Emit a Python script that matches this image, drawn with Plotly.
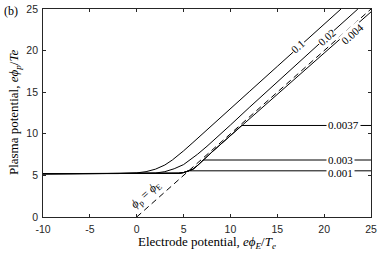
import plotly.graph_objects as go

# ---------------- data ----------------
x_ticks = [-10, -5, 0, 5, 10, 15, 20, 25]
x_tick_text = ["-10", "-5", "0", "5", "10", "15", "20", "25"]
y_ticks = [0, 5, 10, 15, 20, 25]
y_tick_text = ["0", "5", "10", "15", "20", "25"]

# ratio 0.1
x_01 = [-10, -4, -2, 0, 1, 2, 3, 3.8, 4.5, 5, 6, 7, 8, 10, 12, 15, 20, 21.8]
y_01 = [5.2, 5.2, 5.22, 5.3, 5.45, 5.75, 6.25, 6.85, 7.45, 7.95, 8.95, 9.95, 10.95, 13.0, 15.05, 18.1, 23.2, 25.0]

# ratio 0.02
x_002 = [-10, 0, 1, 2, 3, 4, 5, 5.7, 6.5, 7.5, 8.5, 9.4, 10, 12, 15, 20, 23.6]
y_002 = [5.2, 5.2, 5.22, 5.28, 5.45, 5.8, 6.3, 6.85, 7.55, 8.5, 9.5, 10.45, 11.05, 13.15, 16.25, 21.35, 25.0]

# ratio 0.004
x_0004 = [-10, 0, 2, 3, 4, 4.5, 5, 5.5, 6, 6.5, 7, 7.5, 8, 9, 10, 11, 12, 15, 20, 25]
y_0004 = [5.2, 5.2, 5.2, 5.21, 5.22, 5.26, 5.34, 5.5, 5.74, 6.2, 6.75, 7.27, 7.78, 8.78, 9.78, 10.78, 11.77, 14.74, 19.7, 24.65]

# ratio 0.0037
x_00037 = [-10, 0, 2, 3, 4, 4.5, 5, 5.5, 6, 6.5, 7, 7.5, 8, 9, 10, 11.2, 25]
y_00037 = [5.2, 5.2, 5.2, 5.21, 5.22, 5.26, 5.34, 5.5, 5.74, 6.2, 6.75, 7.27, 7.78, 8.78, 9.78, 11.0, 11.0]

# ratio 0.003
x_0003 = [-10, 0, 2, 3, 4, 4.5, 5, 5.5, 6, 6.5, 7.08, 25]
y_0003 = [5.2, 5.2, 5.2, 5.21, 5.22, 5.26, 5.34, 5.5, 5.74, 6.2, 6.85, 6.85]

# ratio 0.001
x_0001 = [-10, 0, 2, 3, 4, 4.5, 5, 5.5, 5.65, 25]
y_0001 = [5.2, 5.2, 5.2, 5.21, 5.22, 5.26, 5.34, 5.5, 5.55, 5.55]

# reference line phi_p = phi_E
x_ref = [0, 25]
y_ref = [0, 25]

# inline labels: text, x, y
diag_labels = ["0.1", "0.02", "0.004"]
diag_x = [17.25, 20.3, 23.0]
diag_y = [20.5, 21.65, 21.95]

flat_labels = ["0.0037", "0.003", "0.001"]
flat_x = [20.2, 20.2, 20.2]
flat_y = [11.05, 6.85, 5.3]

# ---------------- figure ----------------
SERIF = "Liberation Serif, DejaVu Serif, serif"
SANS = "Liberation Sans Narrow, Liberation Sans, Arial, sans-serif"
INK = "#262626"

fig = go.Figure()

fig.add_trace(go.Scatter(x=x_ref, y=y_ref, mode="lines",
                         line=dict(color="black", width=1, dash="6px,4px"),
                         hoverinfo="skip", showlegend=False))

for xs, ys in [(x_01, y_01), (x_002, y_002), (x_0004, y_0004),
               (x_00037, y_00037), (x_0003, y_0003), (x_0001, y_0001)]:
    fig.add_trace(go.Scatter(x=xs, y=ys, mode="lines",
                             line=dict(color="black", width=1),
                             hoverinfo="skip", showlegend=False))

ANGLE = -41.6
for t, xx, yy in zip(diag_labels, diag_x, diag_y):
    fig.add_annotation(x=xx, y=yy, xref="x", yref="y", text=t, showarrow=False,
                       textangle=ANGLE, bgcolor="white", borderpad=0,
                       font=dict(family=SERIF, size=11, color="black"))

for t, xx, yy in zip(flat_labels, flat_x, flat_y):
    fig.add_annotation(x=xx, y=yy, xref="x", yref="y", text=t, showarrow=False,
                       xanchor="left", bgcolor="white", borderpad=1,
                       font=dict(family=SERIF, size=11, color="black"))

fig.add_annotation(x=1.0, y=2.6, xref="x", yref="y",
                   text="<i>ϕ</i><sub>p</sub> = <i>ϕ</i><sub>E</sub>",
                   showarrow=False, textangle=ANGLE,
                   font=dict(family=SERIF, size=12, color="black"))

fig.add_annotation(x=-0.125, y=0.99, xref="paper", yref="paper", text="(b)",
                   showarrow=False, xanchor="left", yanchor="middle",
                   font=dict(family=SERIF, size=12, color="black"))

# axis titles as annotations (exact placement)
fig.add_annotation(x=0.5, y=-0.123, xref="paper", yref="paper",
                   text="Electrode potential, <i>eϕ</i><sub><i>E</i></sub>/<i>T</i><sub><i>e</i></sub>",
                   showarrow=False, xanchor="center", yanchor="middle",
                   font=dict(family=SERIF, size=13, color="black"))
fig.add_annotation(x=-0.085, y=0.505, xref="paper", yref="paper",
                   text="Plasma potential, <i>eϕ</i><sub><i>p</i></sub>/<i>Te</i>",
                   showarrow=False, textangle=-90, xanchor="center", yanchor="middle",
                   font=dict(family=SERIF, size=13, color="black"))

axis_common = dict(showgrid=False, zeroline=False, showline=True, linecolor=INK,
                   linewidth=0.8, mirror="ticks", ticks="inside", ticklen=3,
                   tickcolor=INK, tickwidth=0.8, automargin=False,
                   tickfont=dict(family=SANS, size=10.5, color=INK))

fig.update_layout(
    width=382, height=253, autosize=False,
    margin=dict(l=43, r=11, t=9, b=36),
    paper_bgcolor="white", plot_bgcolor="white",
    xaxis=dict(range=[-10, 25], tickvals=x_ticks, ticktext=x_tick_text,
               ticklabelstandoff=2, **axis_common),
    yaxis=dict(range=[0, 25], tickvals=y_ticks, ticktext=y_tick_text,
               ticklabelstandoff=2, **axis_common),
)

fig.write_html("out.html", config={"displayModeBar": False},
               post_script="document.body.style.margin='0';document.body.style.overflow='hidden';")
